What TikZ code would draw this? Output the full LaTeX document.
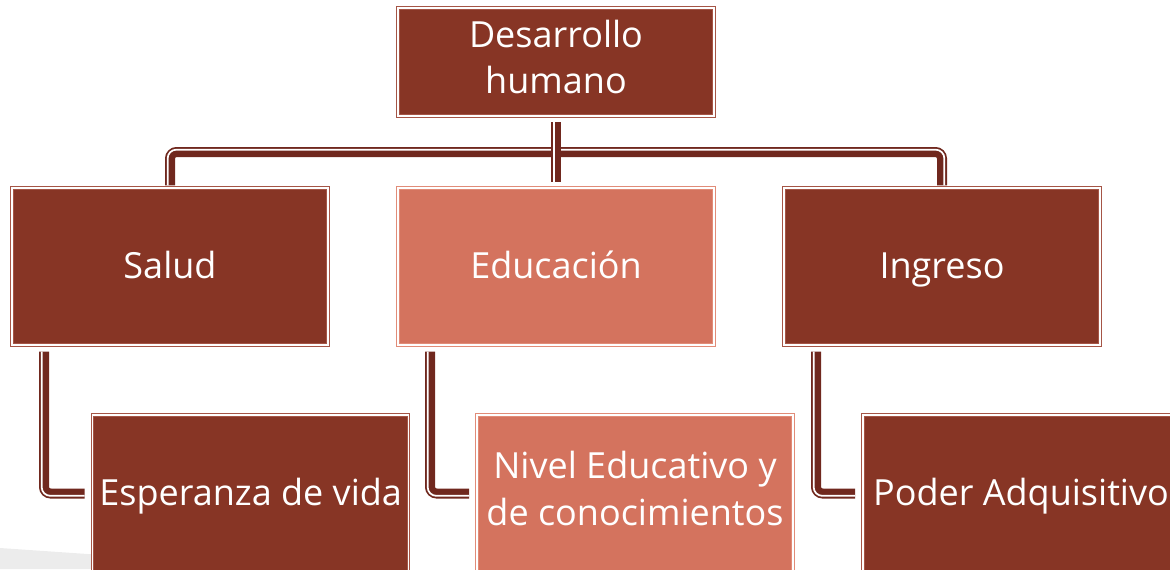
\documentclass[tikz,border=0pt]{standalone}
\usepackage{fontspec}
\setmainfont{Open Sans}
\usepackage{tikz}
\usetikzlibrary{positioning, calc}

\definecolor{darkbox}{RGB}{135,53,37}
\definecolor{lightbox}{RGB}{212,115,94}
\definecolor{boxline}{RGB}{165,85,70}
\definecolor{lightline}{RGB}{225,140,120}
\definecolor{conn}{RGB}{112,40,30}

\newcommand\capstrut{\rule[-8pt]{0pt}{33.3pt}}
\newcommand\lowstrut{\rule[-8pt]{0pt}{8pt}}

\tikzset{
  box/.style={draw=boxline, line width=0.7pt, double=white, double distance=1pt,
    fill=darkbox, text=white, minimum width=237pt, align=center, inner sep=2pt,
    outer sep=0pt, font=\fontsize{27}{35}\selectfont,
    execute at begin node=\capstrut, execute at end node=\lowstrut},
  twoline/.style={execute at begin node={}, execute at end node=\rule[-#1]{0pt}{#1}},
  lightbox/.style={box, draw=lightline, fill=lightbox},
  band/.style={draw=conn, line width=7.5pt, rounded corners=5pt},
  gap/.style={draw=white, line width=1.3pt, rounded corners=6.5pt}
}

\begin{document}
\begin{tikzpicture}
    \useasboundingbox (0,0) rectangle (877.5pt,-426.75pt);
    \fill [gray!15] (0,-411pt) -- (230pt,-426.75pt) -- (0,-426.75pt) -- cycle;

    \node (dh) [box, twoline=3.5pt, minimum height=81pt] at (417pt,-46.5pt) {Desarrollo\\humano};
    \node (edu) [lightbox, minimum height=117.75pt, below=54pt of dh] {Educación};
    \node (salud) [box, minimum height=117.75pt, left=52.5pt of edu] {Salud};
    \node (ingreso) [box, minimum height=117.75pt, right=52.5pt of edu] {Ingreso};

    \node (vida) [box, minimum height=117.75pt, below=52.5pt of salud.south, anchor=north, xshift=60.5pt] {Esperanza de vida};
    \node (nivel) [lightbox, twoline=1pt, minimum height=117.75pt, below=52.5pt of edu.south, anchor=north, xshift=59.25pt] {Nivel Educativo y\\de conocimientos};
    \node (poder) [box, minimum height=117.75pt, below=52.5pt of ingreso.south, anchor=north, xshift=59.25pt] {Poder Adquisitivo};

    % tree
    \coordinate (bar) at ($(dh.south)!0.5!(edu.north)$);
    \draw [band] ([yshift=2pt]salud.north) |- (bar) -| ([yshift=2pt]ingreso.north);
    \draw [gap] ([xshift=-1.75pt,yshift=2pt]salud.north) |- ([yshift=1.75pt]bar) -| ([xshift=1.75pt,yshift=2pt]ingreso.north);
    \draw [band] ([yshift=-4.5pt]dh.south) -- ([yshift=4.5pt]edu.north);
    \draw [gap] ([xshift=-1.75pt,yshift=-4.5pt]dh.south) -- ([xshift=-1.75pt,yshift=4.5pt]edu.north);

    % children
    \foreach \parent/\child in {salud/vida, edu/nivel, ingreso/poder} {
      \draw [band] ([xshift=24pt,yshift=-5pt]\parent.south west) |- ([xshift=-6pt]\child.west);
      \draw [gap] ([xshift=22.25pt,yshift=-5pt]\parent.south west) |- ([xshift=-6pt,yshift=-1.75pt]\child.west);
    }
\end{tikzpicture}
\end{document}
